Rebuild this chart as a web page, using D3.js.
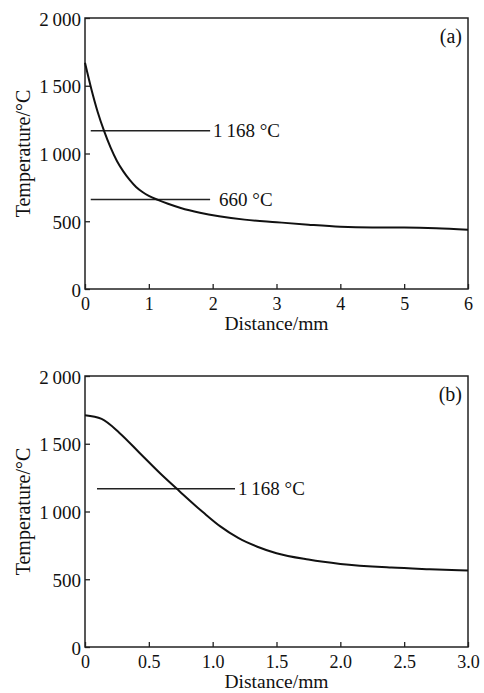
<!DOCTYPE html>
<html lang="en">
<head>
<meta charset="UTF-8">
<title>Temperature profiles</title>
<script src="https://d3js.org/d3.v7.min.js"></script>
<style>
body { margin: 0; background: #fff; }
text { font-family: "Liberation Serif", "Times New Roman", serif; fill: #111; }
</style>
</head>
<body>
<div id="chart"></div>
<script>
// panel (a): distance in mm, temperature in degC
const distA = [0, 0.1, 0.2, 0.3, 0.4, 0.5, 0.6, 0.7, 0.8, 0.9, 1.0, 1.15, 1.3, 1.5, 1.8, 2.1, 2.5, 3.0, 3.5, 4.0, 4.5, 5.0, 5.5, 6.0]
const tempA = [1670, 1475, 1305, 1165, 1045, 945, 868, 805, 753, 716, 687, 656, 629, 598, 563, 537, 512, 493, 475, 460, 454, 453, 448, 438]
// panel (b)
const distB = [0, 0.13, 0.27, 0.43, 0.59, 0.74, 0.93, 1.06, 1.2, 1.35, 1.5, 1.75, 2.0, 2.4, 2.7, 3.0]
const tempB = [1710, 1683, 1580, 1430, 1280, 1150, 990, 890, 805, 740, 692, 645, 613, 586, 574, 564]

const yTicks = [0, 500, 1000, 1500, 2000]
const xTicksA = [0, 1, 2, 3, 4, 5, 6]
const xTicksB = [0, 0.5, 1.0, 1.5, 2.0, 2.5, 3.0]

// reference lines: temperature and x-extent of the line
const refA = [{t: 1168, from: 0.09, to: 1.96, label: '1\u2009168 °C'},
              {t: 660, from: 0.09, to: 1.96, label: '660 °C'}]
const refB = [{t: 1168, from: 0.094, to: 1.175, label: '1\u2009168 °C'}]

const W = 484, H = 693
const FONT = '"Liberation Serif", "Times New Roman", serif'
const svg = d3.select('#chart').append('svg').attr('width', W).attr('height', H)

function fmtY(d) {
  if (d >= 1000) return d3.format(',')(d).replace(',', '\u2009')
  return d
}

function styleAxis(a, size) {
  a.select('.domain').remove()
  a.selectAll('.tick line').attr('stroke', '#222').attr('stroke-width', 1.3)
  a.selectAll('text').style('font-size', size + 'px').style('font-family', FONT).attr('fill', '#111')
}

function drawPanel(opts) {
  const left = 85, right = 468
  const x = d3.scaleLinear().domain([0, opts.xMax]).range([left, right])
  const y = d3.scaleLinear().domain([0, 2000]).range([opts.bottom, opts.top])
  const g = svg.append('g')

  // axes with inward ticks
  g.append('g')
    .attr('transform', 'translate(0,' + opts.bottom + ')')
    .call(d3.axisBottom(x).tickValues(opts.xTicks).tickSizeInner(-5).tickSizeOuter(0).tickPadding(8)
      .tickFormat(opts.xFormat))
    .call(styleAxis, 18)

  g.append('g')
    .attr('transform', 'translate(' + left + ',0)')
    .call(d3.axisLeft(y).tickValues(yTicks).tickSizeInner(-5).tickSizeOuter(0).tickPadding(4).tickFormat(fmtY))
    .call(styleAxis, 19)
    .call(a => a.selectAll('text').attr('dy', '0.38em'))

  // frame
  g.append('rect')
    .attr('x', left).attr('y', opts.top)
    .attr('width', right - left).attr('height', opts.bottom - opts.top)
    .attr('fill', 'none').attr('stroke', '#222').attr('stroke-width', 1.5)

  // reference lines
  opts.refs.forEach(r => {
    g.append('line')
      .attr('x1', x(r.from)).attr('x2', x(r.to))
      .attr('y1', y(r.t)).attr('y2', y(r.t))
      .attr('stroke', '#222').attr('stroke-width', 1.5)
    g.append('text')
      .attr('x', x(r.to) + r.gap).attr('y', y(r.t))
      .attr('dy', '0.35em').style('font-size', '19px')
      .text(r.label)
  })

  // curve
  const pts = opts.dist.map((d, i) => [d, opts.temp[i]])
  g.append('path')
    .datum(pts)
    .attr('fill', 'none').attr('stroke', '#111').attr('stroke-width', 2)
    .attr('d', d3.line().x(d => x(d[0])).y(d => y(d[1])).curve(d3.curveMonotoneX))

  // panel tag
  g.append('text')
    .attr('x', right - 6).attr('y', opts.top + 18)
    .attr('dy', '0.35em').attr('text-anchor', 'end').style('font-size', '20px')
    .text(opts.tag)

  // titles
  g.append('text')
    .attr('x', (left + right) / 2).attr('y', opts.bottom + 41)
    .attr('text-anchor', 'middle').style('font-size', '19.5px')
    .text('Distance/mm')
  g.append('text')
    .attr('transform', 'translate(30,' + (opts.top + opts.bottom) / 2 + ') rotate(-90)')
    .attr('text-anchor', 'middle').style('font-size', '20px')
    .text('Temperature/°C')
}

refA[0].gap = 3; refA[1].gap = 9
refB[0].gap = 3

drawPanel({top: 18, bottom: 289, xMax: 6, xTicks: xTicksA, xFormat: d3.format('d'),
  dist: distA, temp: tempA, refs: refA, tag: '(a)'})
drawPanel({top: 376, bottom: 647, xMax: 3, xTicks: xTicksB, xFormat: d => d === 0 ? '0' : d3.format('.1f')(d),
  dist: distB, temp: tempB, refs: refB, tag: '(b)'})
</script>
</body>
</html>
